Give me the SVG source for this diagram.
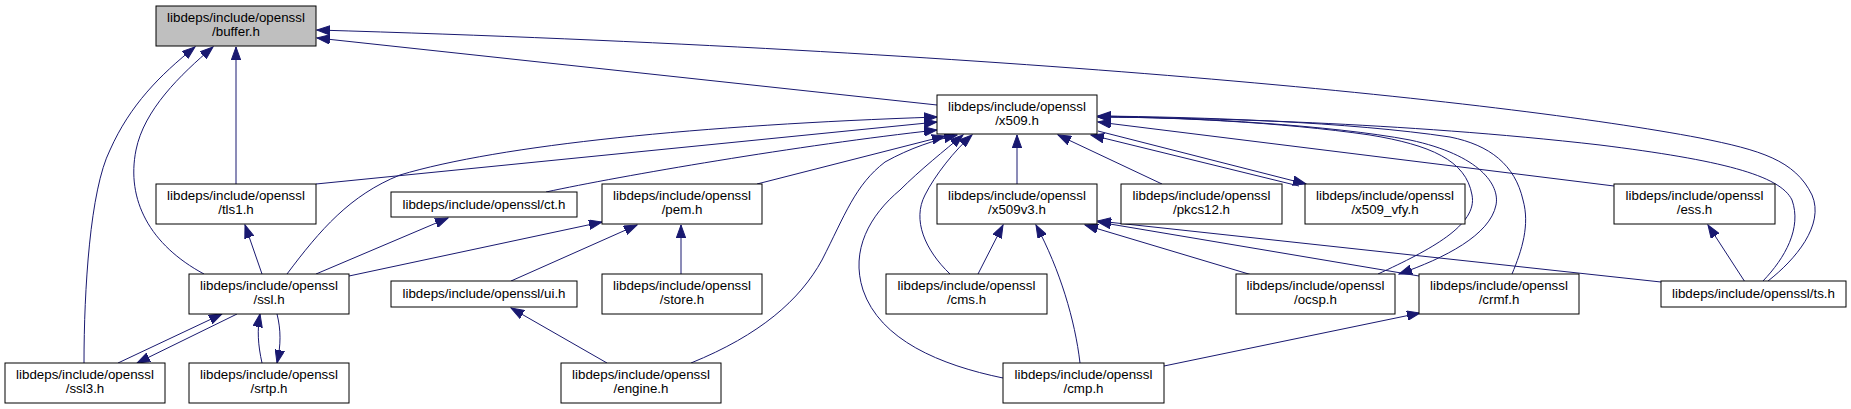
<svg xmlns="http://www.w3.org/2000/svg" width="1851" height="409" viewBox="0 0 1851 409">
<style>
.n rect{fill:#fff;stroke:#000;stroke-width:1}
.n.g rect{fill:#bfbfbf}
.n text{font-family:"Liberation Sans",Arial,sans-serif;font-size:13.33px;fill:#000;text-anchor:middle}
.e path{fill:none;stroke:#191970;stroke-width:1}
</style>
<defs>
<marker id="a" viewBox="0 0 14 10" refX="13" refY="5" markerWidth="14" markerHeight="10" markerUnits="userSpaceOnUse" orient="auto">
<path d="M0,0.3 L13,5 L0,9.7 z" fill="#191970" stroke="#191970" stroke-width="1"/>
</marker>
</defs>
<rect width="1851" height="409" fill="#fff"/>
<g class="e" marker-end="url(#a)">
<path d="M236,184 L236,47"/>
<path d="M204,274 C150,245 126,200 136,150 C144,110 180,75 213,47"/>
<path d="M84,363 C84,290 90,190 110,150 C130,105 160,75 195,47"/>
<path d="M937,105 L317,38"/>
<path d="M1768,281 C1795,260 1825,225 1812,195 C1795,160 1760,150 1700,138 C1500,100 1000,50 317,30"/>
<path d="M1763,281 C1785,258 1802,228 1792,200 C1780,175 1720,160 1600,145 C1400,122 1200,118 1098,117"/>
<path d="M1378,274 C1430,250 1478,225 1472,195 C1466,160 1430,145 1370,135 C1280,122 1170,117 1098,117"/>
<path d="M1098,116 C1200,118 1330,125 1410,140 C1480,155 1500,185 1496,205 C1490,235 1445,258 1399,274"/>
<path d="M1512,274 C1522,250 1530,225 1523,200 C1515,165 1490,145 1450,137 C1350,122 1200,117 1098,116"/>
<path d="M1614,186 L1098,122"/>
<path d="M1299,186 L1091,135"/>
<path d="M1098,131 L1306,184"/>
<path d="M1162,184 L1058,135"/>
<path d="M1017,184 L1017,135"/>
<path d="M950,274 C925,250 912,220 925,195 C935,175 955,150 972,135"/>
<path d="M1003,378 C940,365 880,340 863,290 C850,250 870,215 900,190 C920,170 945,150 963,135"/>
<path d="M691,363 C760,335 800,300 822,260 C845,215 855,185 885,162 C910,148 935,140 957,135"/>
<path d="M316,184 L937,122"/>
<path d="M287,274 C320,230 350,195 400,175 C500,145 700,125 937,117"/>
<path d="M546,192 C620,176 800,145 937,130"/>
<path d="M757,184 L945,136"/>
<path d="M262,274 L245,225"/>
<path d="M316,274 L448,218"/>
<path d="M349,276 L602,222"/>
<path d="M511,281 L637,225"/>
<path d="M681,274 L681,225"/>
<path d="M607,363 L511,308"/>
<path d="M118,363 L222,314"/>
<path d="M237,314 L137,363"/>
<path d="M262,363 C258,345 257,330 260,314"/>
<path d="M277,314 C281,330 281,345 277,363"/>
<path d="M978,274 L1003,225"/>
<path d="M1080,363 C1075,320 1060,270 1036,225"/>
<path d="M1252,275 L1085,225"/>
<path d="M1419,276 L1098,222"/>
<path d="M1661,282 L1098,221"/>
<path d="M1164,366 L1420,313"/>
<path d="M1745,282 L1708,225"/>
</g>
<g id="buffer" class="n g"><rect x="156" y="6" width="160" height="40"/><text x="236" y="22">libdeps/include/openssl</text><text x="236" y="36">/buffer.h</text></g>
<g id="x509" class="n"><rect x="937" y="95" width="160" height="39"/><text x="1017" y="111">libdeps/include/openssl</text><text x="1017" y="125">/x509.h</text></g>
<g id="tls1" class="n"><rect x="156" y="184" width="160" height="40"/><text x="236" y="200">libdeps/include/openssl</text><text x="236" y="214">/tls1.h</text></g>
<g id="ct" class="n"><rect x="391" y="192" width="186" height="25"/><text x="484" y="209">libdeps/include/openssl/ct.h</text></g>
<g id="pem" class="n"><rect x="602" y="184" width="160" height="40"/><text x="682" y="200">libdeps/include/openssl</text><text x="682" y="214">/pem.h</text></g>
<g id="x509v3" class="n"><rect x="937" y="184" width="160" height="40"/><text x="1017" y="200">libdeps/include/openssl</text><text x="1017" y="214">/x509v3.h</text></g>
<g id="pkcs12" class="n"><rect x="1121" y="184" width="161" height="40"/><text x="1201.5" y="200">libdeps/include/openssl</text><text x="1201.5" y="214">/pkcs12.h</text></g>
<g id="x509_vfy" class="n"><rect x="1305" y="184" width="160" height="40"/><text x="1385" y="200">libdeps/include/openssl</text><text x="1385" y="214">/x509_vfy.h</text></g>
<g id="ess" class="n"><rect x="1614" y="184" width="161" height="40"/><text x="1694.5" y="200">libdeps/include/openssl</text><text x="1694.5" y="214">/ess.h</text></g>
<g id="ssl" class="n"><rect x="189" y="274" width="160" height="40"/><text x="269" y="290">libdeps/include/openssl</text><text x="269" y="304">/ssl.h</text></g>
<g id="ui" class="n"><rect x="391" y="281" width="186" height="26"/><text x="484" y="298">libdeps/include/openssl/ui.h</text></g>
<g id="store" class="n"><rect x="602" y="274" width="160" height="40"/><text x="682" y="290">libdeps/include/openssl</text><text x="682" y="304">/store.h</text></g>
<g id="cms" class="n"><rect x="886" y="274" width="161" height="40"/><text x="966.5" y="290">libdeps/include/openssl</text><text x="966.5" y="304">/cms.h</text></g>
<g id="ocsp" class="n"><rect x="1236" y="274" width="159" height="40"/><text x="1315.5" y="290">libdeps/include/openssl</text><text x="1315.5" y="304">/ocsp.h</text></g>
<g id="crmf" class="n"><rect x="1419" y="274" width="160" height="40"/><text x="1499" y="290">libdeps/include/openssl</text><text x="1499" y="304">/crmf.h</text></g>
<g id="ts" class="n"><rect x="1661" y="281" width="185" height="26"/><text x="1753.5" y="298">libdeps/include/openssl/ts.h</text></g>
<g id="ssl3" class="n"><rect x="5" y="363" width="160" height="40"/><text x="85" y="379">libdeps/include/openssl</text><text x="85" y="393">/ssl3.h</text></g>
<g id="srtp" class="n"><rect x="189" y="363" width="160" height="40"/><text x="269" y="379">libdeps/include/openssl</text><text x="269" y="393">/srtp.h</text></g>
<g id="engine" class="n"><rect x="561" y="363" width="160" height="40"/><text x="641" y="379">libdeps/include/openssl</text><text x="641" y="393">/engine.h</text></g>
<g id="cmp" class="n"><rect x="1003" y="363" width="161" height="40"/><text x="1083.5" y="379">libdeps/include/openssl</text><text x="1083.5" y="393">/cmp.h</text></g>
</svg>
